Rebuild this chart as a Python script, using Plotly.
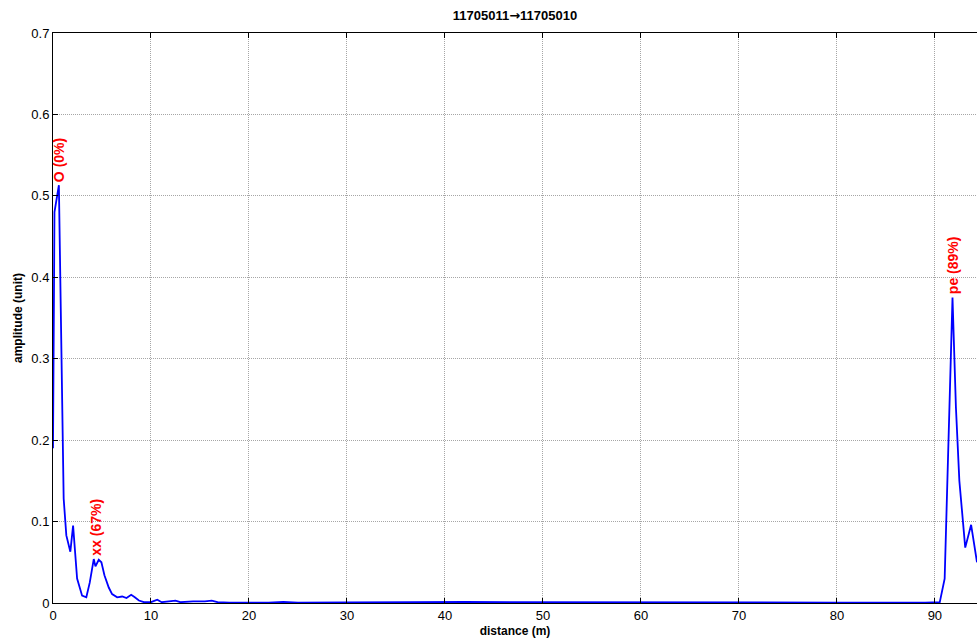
import plotly.graph_objects as go

distance = [0.0, 0.15, 0.6, 1.0, 1.09, 1.36, 1.77, 2.05, 2.46, 2.97, 3.4, 3.75, 4.16, 4.33, 4.67, 4.94,
            5.25, 5.69, 6.03, 6.55, 7.06, 7.5, 7.98, 8.35, 8.77, 9.28, 10.0, 10.64, 11.1, 12.5, 13.0,
            14.3, 15.5, 16.2, 16.8, 18.0, 22.0, 23.5, 25.0, 30.0, 33.0, 36.5, 42.0, 48.0, 52.0, 60.0,
            70.0, 80.0, 89.0, 90.5, 91.0, 91.8, 92.15, 92.5, 93.1, 93.7, 94.3]
amplitude = [0.19, 0.48, 0.513, 0.152, 0.128, 0.083, 0.063, 0.095, 0.030, 0.009, 0.007, 0.025, 0.054,
             0.045, 0.053, 0.050, 0.034, 0.019, 0.011, 0.007, 0.008, 0.006, 0.010, 0.007, 0.003, 0.001,
             0.001, 0.004, 0.001, 0.003, 0.001, 0.002, 0.002, 0.003, 0.001, 0.0005, 0.0005, 0.0015,
             0.0005, 0.0008, 0.0012, 0.001, 0.0012, 0.001, 0.0008, 0.0008, 0.0005, 0.0005, 0.0005,
             0.001, 0.03, 0.375, 0.24, 0.15, 0.068, 0.096, 0.05]

label_text = ["O (0%)", "xx (67%)", "pe (89%)"]
label_x = [0.6, 4.3, 91.8]
label_y = [0.513, 0.054, 0.375]

title_left = "11705011"
title_right = "11705010"
x_ticks = [0, 10, 20, 30, 40, 50, 60, 70, 80, 90]
y_ticks = [0, 0.1, 0.2, 0.3, 0.4, 0.5, 0.6, 0.7]

FONT = "Liberation Sans, Arial, sans-serif"

fig = go.Figure()
fig.add_trace(go.Scatter(x=distance, y=amplitude, mode="lines",
                         line=dict(color="#0000ff", width=1.8), showlegend=False))

for t, xv, yv in zip(label_text, label_x, label_y):
    fig.add_annotation(x=xv, y=yv, text="<b>%s</b>" % t, textangle=-90, showarrow=False,
                       xanchor="center", yanchor="bottom", yshift=1,
                       font=dict(family=FONT, size=14, color="#ff0000"))

title_html = ("<b>%s<span style=\"font-family:'DejaVu Sans'\">\u2192</span>%s</b>"
              % (title_left, title_right))

fig.update_layout(
    width=977, height=640,
    margin=dict(l=53, r=0, t=33, b=37),
    paper_bgcolor="white", plot_bgcolor="white",
    font=dict(family=FONT, size=13, color="black"),
    title=dict(text=title_html, x=(53 + 977) / 2 / 977, xanchor="center",
               y=1 - 15 / 640, yanchor="middle", font=dict(size=13, family=FONT)),
)
grid = dict(showgrid=True, gridcolor="#a6a6a6", griddash="1px,1px", gridwidth=1, zeroline=False)
fig.update_xaxes(range=[0, 94.3], tickvals=x_ticks, ticks="inside", ticklen=5, tickcolor="black",
                 showline=True, linecolor="black", linewidth=1, mirror="ticks",
                 title=dict(text="<b>distance (m)</b>", standoff=5, font=dict(size=12)),
                 tickfont=dict(size=13), **grid)
fig.update_yaxes(range=[0, 0.7], tickvals=y_ticks, ticks="inside", ticklen=5, tickcolor="black",
                 showline=True, linecolor="black", linewidth=1, mirror=False,
                 title=dict(text="<b>amplitude (unit)</b>", standoff=6, font=dict(size=12)),
                 tickfont=dict(size=13), **grid)

fig.write_html("out.html")
